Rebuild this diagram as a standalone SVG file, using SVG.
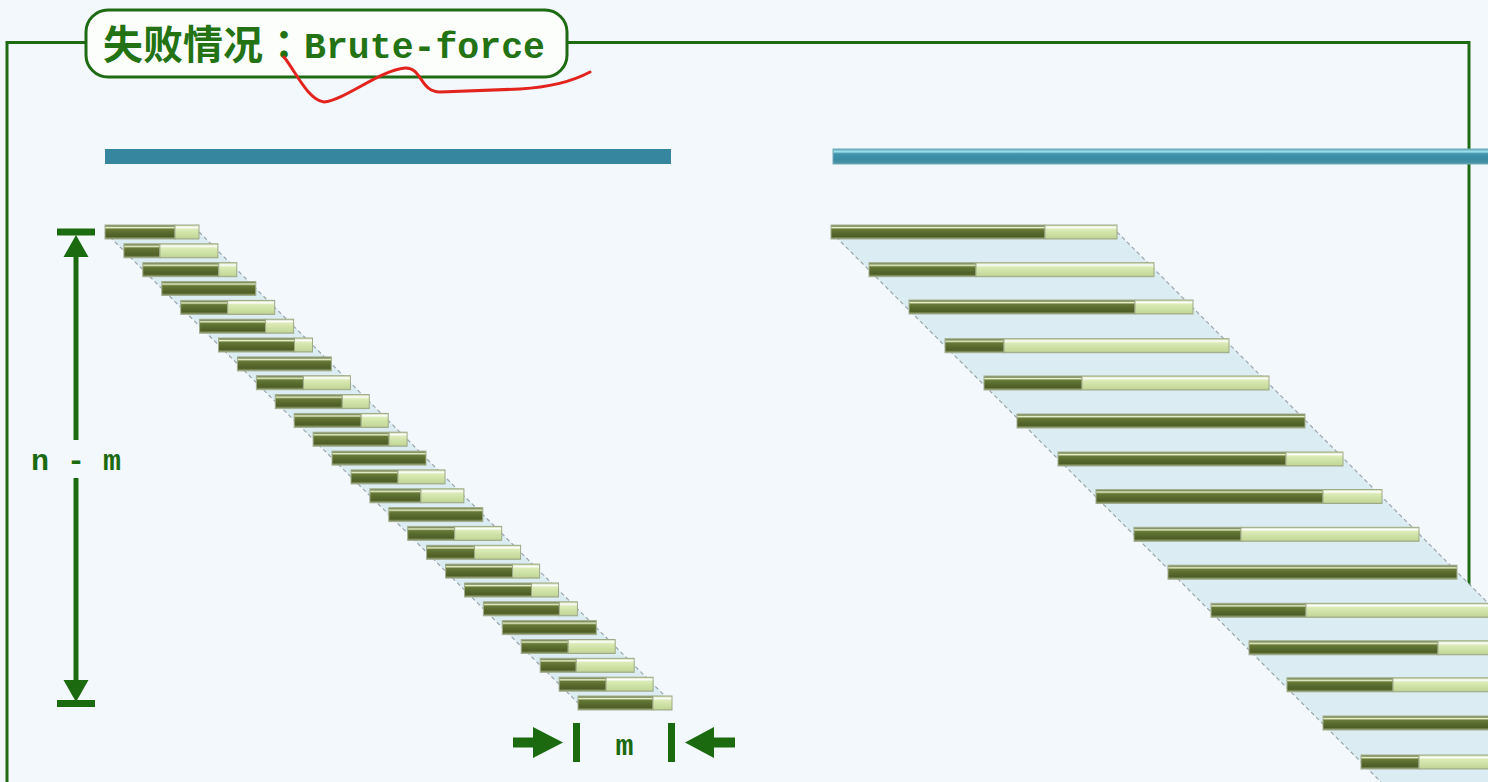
<svg xmlns="http://www.w3.org/2000/svg" width="1488" height="782" viewBox="0 0 1488 782">
<style>
.frame{fill:none;stroke:#1f6b14;stroke-width:3}
.g{fill:#1c6a10}
.dk{fill:url(#dkG);stroke:#a2ad8e;stroke-width:1}
.lt{fill:url(#ltG);stroke:#9eaa86;stroke-width:1}
.band{fill:#dbedf3}
.dash{fill:none;stroke:#9ba6aa;stroke-width:1.2;stroke-dasharray:4 3}
.lbl{font-family:"Liberation Mono","DejaVu Sans Mono",monospace;font-weight:bold;font-size:30px;fill:#1c6a10}
</style>
<defs>
<linearGradient id="dkG" x1="0" y1="0" x2="0" y2="1">
<stop offset="0" stop-color="#707e48"/>
<stop offset="0.1" stop-color="#8a9868"/>
<stop offset="0.18" stop-color="#e6efc8"/>
<stop offset="0.3" stop-color="#687a38"/>
<stop offset="0.6" stop-color="#56682b"/>
<stop offset="0.82" stop-color="#4d5f26"/>
<stop offset="0.92" stop-color="#7b8a58"/>
<stop offset="1" stop-color="#8c9870"/>
</linearGradient>
<linearGradient id="ltG" x1="0" y1="0" x2="0" y2="1">
<stop offset="0" stop-color="#c2d19a"/>
<stop offset="0.16" stop-color="#ffffff"/>
<stop offset="0.3" stop-color="#dcebb8"/>
<stop offset="0.6" stop-color="#cfe2a6"/>
<stop offset="0.88" stop-color="#c6d99c"/>
<stop offset="1" stop-color="#aebd8a"/>
</linearGradient>
<linearGradient id="tealG" x1="0" y1="0" x2="0" y2="1">
<stop offset="0" stop-color="#5aa6ba"/>
<stop offset="0.18" stop-color="#9fe0ee"/>
<stop offset="0.32" stop-color="#3f93aa"/>
<stop offset="0.7" stop-color="#3a8ca3"/>
<stop offset="1" stop-color="#4f95a8"/>
</linearGradient>
</defs>
<rect x="0" y="0" width="1488" height="782" fill="#f2f8fc"/>

<g id="frame">
<path class="frame" d="M7 782 L7 42.5 L1469 42.5 L1469 600"/>
</g>

<g id="title">
<rect x="86" y="10" width="481" height="67" rx="22" fill="#fcfefc" stroke="#1f6b14" stroke-width="3"/>
<text x="103" y="59" font-family="'Noto Sans CJK SC',sans-serif" font-weight="bold" font-size="40" fill="#237314">失败情况</text>
<text x="284" y="59" text-anchor="middle" font-family="'Noto Sans CJK TC',sans-serif" font-weight="bold" font-size="40" fill="#237314">：</text>
<text x="304" y="58" font-family="'Liberation Mono','DejaVu Sans Mono',monospace" font-weight="bold" font-size="37" fill="#237314" textLength="241" lengthAdjust="spacingAndGlyphs">Brute-force</text>
<path d="M284 57 C296 72,308 100,324 102 C345 100,380 70,405 68 C422 67,420 92,440 92 L520 89 C555 87,575 80,590 72" fill="none" stroke="#e3241e" stroke-width="3" stroke-linecap="round"/>
</g>

<g id="text-bars">
<rect x="105" y="149" width="566" height="15" fill="#35869e"/>
<rect x="833" y="149" width="670" height="15" fill="url(#tealG)" stroke="#72aab8" stroke-width="1"/>
</g>

<g id="left-shifts">
<polygon class="band" points="105,232 199,232 672,703 578,703"/>
<line class="dash" x1="105" y1="232" x2="578" y2="703"/>
<line class="dash" x1="199" y1="232" x2="672" y2="703"/>
<g transform="translate(105,225)"><rect class="dk" width="70" height="14"/><rect class="lt" x="70" width="24" height="14"/></g>
<g transform="translate(123.9,243.8)"><rect class="dk" width="36" height="14"/><rect class="lt" x="36" width="58" height="14"/></g>
<g transform="translate(142.8,262.7)"><rect class="dk" width="76" height="14"/><rect class="lt" x="76" width="18" height="14"/></g>
<g transform="translate(161.8,281.5)"><rect class="dk" width="94" height="14"/></g>
<g transform="translate(180.7,300.4)"><rect class="dk" width="47" height="14"/><rect class="lt" x="47" width="47" height="14"/></g>
<g transform="translate(199.6,319.2)"><rect class="dk" width="66" height="14"/><rect class="lt" x="66" width="28" height="14"/></g>
<g transform="translate(218.5,338)"><rect class="dk" width="76" height="14"/><rect class="lt" x="76" width="18" height="14"/></g>
<g transform="translate(237.4,356.9)"><rect class="dk" width="94" height="14"/></g>
<g transform="translate(256.4,375.7)"><rect class="dk" width="47" height="14"/><rect class="lt" x="47" width="47" height="14"/></g>
<g transform="translate(275.3,394.6)"><rect class="dk" width="67" height="14"/><rect class="lt" x="67" width="27" height="14"/></g>
<g transform="translate(294.2,413.4)"><rect class="dk" width="67" height="14"/><rect class="lt" x="67" width="27" height="14"/></g>
<g transform="translate(313.1,432.2)"><rect class="dk" width="76" height="14"/><rect class="lt" x="76" width="18" height="14"/></g>
<g transform="translate(332,451.1)"><rect class="dk" width="94" height="14"/></g>
<g transform="translate(351,469.9)"><rect class="dk" width="47" height="14"/><rect class="lt" x="47" width="47" height="14"/></g>
<g transform="translate(369.9,488.8)"><rect class="dk" width="51" height="14"/><rect class="lt" x="51" width="43" height="14"/></g>
<g transform="translate(388.8,507.6)"><rect class="dk" width="94" height="14"/></g>
<g transform="translate(407.7,526.4)"><rect class="dk" width="47" height="14"/><rect class="lt" x="47" width="47" height="14"/></g>
<g transform="translate(426.6,545.3)"><rect class="dk" width="48" height="14"/><rect class="lt" x="48" width="46" height="14"/></g>
<g transform="translate(445.6,564.1)"><rect class="dk" width="67" height="14"/><rect class="lt" x="67" width="27" height="14"/></g>
<g transform="translate(464.5,583)"><rect class="dk" width="67" height="14"/><rect class="lt" x="67" width="27" height="14"/></g>
<g transform="translate(483.4,601.8)"><rect class="dk" width="76" height="14"/><rect class="lt" x="76" width="18" height="14"/></g>
<g transform="translate(502.3,620.6)"><rect class="dk" width="94" height="14"/></g>
<g transform="translate(521.2,639.5)"><rect class="dk" width="47" height="14"/><rect class="lt" x="47" width="47" height="14"/></g>
<g transform="translate(540.2,658.3)"><rect class="dk" width="36" height="14"/><rect class="lt" x="36" width="58" height="14"/></g>
<g transform="translate(559.1,677.2)"><rect class="dk" width="47" height="14"/><rect class="lt" x="47" width="47" height="14"/></g>
<g transform="translate(578,696)"><rect class="dk" width="75" height="14"/><rect class="lt" x="75" width="19" height="14"/></g>
</g>

<g id="right-shifts">
<polygon class="band" points="831,232 1117,232 1667,782 1381,782"/>
<line class="dash" x1="831" y1="232" x2="1381" y2="782"/>
<line class="dash" x1="1117" y1="232" x2="1667" y2="782"/>
<g transform="translate(831,225)"><rect class="dk" width="214" height="14"/><rect class="lt" x="214" width="72" height="14"/></g>
<g transform="translate(869,262.7)"><rect class="dk" width="107" height="14"/><rect class="lt" x="107" width="178" height="14"/></g>
<g transform="translate(909,300)"><rect class="dk" width="226" height="14"/><rect class="lt" x="226" width="58" height="14"/></g>
<g transform="translate(945,338.7)"><rect class="dk" width="59" height="14"/><rect class="lt" x="59" width="225" height="14"/></g>
<g transform="translate(984,376)"><rect class="dk" width="98" height="14"/><rect class="lt" x="98" width="187" height="14"/></g>
<g transform="translate(1017,414)"><rect class="dk" width="288" height="14"/></g>
<g transform="translate(1058,452)"><rect class="dk" width="228" height="14"/><rect class="lt" x="228" width="57" height="14"/></g>
<g transform="translate(1096,489.5)"><rect class="dk" width="227" height="14"/><rect class="lt" x="227" width="59" height="14"/></g>
<g transform="translate(1134,527.3)"><rect class="dk" width="107" height="14"/><rect class="lt" x="107" width="178" height="14"/></g>
<g transform="translate(1168,565.2)"><rect class="dk" width="289" height="14"/></g>
<g transform="translate(1211,603.3)"><rect class="dk" width="95" height="14"/><rect class="lt" x="95" width="191" height="14"/></g>
<g transform="translate(1249,640.8)"><rect class="dk" width="189" height="14"/><rect class="lt" x="189" width="97" height="14"/></g>
<g transform="translate(1287,677.8)"><rect class="dk" width="106" height="14"/><rect class="lt" x="106" width="180" height="14"/></g>
<g transform="translate(1323,716)"><rect class="dk" width="286" height="14"/></g>
<g transform="translate(1361,755)"><rect class="dk" width="58" height="14"/><rect class="lt" x="58" width="228" height="14"/></g>
</g>

<g id="dim-n-m">
<rect class="g" x="57" y="228.5" width="38" height="7"/>
<polygon class="g" points="76,235 63.5,257 88.5,257"/>
<rect class="g" x="73.5" y="256" width="5" height="184"/>
<text class="lbl" x="76" y="470" text-anchor="middle">n - m</text>
<rect class="g" x="73.5" y="478" width="5" height="203"/>
<polygon class="g" points="63.5,680 88.5,680 76,702"/>
<rect class="g" x="57" y="700" width="38" height="7"/>
</g>

<g id="dim-m">
<rect class="g" x="513" y="737.5" width="22" height="10"/>
<polygon class="g" points="533,727 563,742.5 533,758"/>
<rect class="g" x="573" y="723" width="7" height="39"/>
<text class="lbl" x="624.5" y="755" text-anchor="middle">m</text>
<rect class="g" x="668" y="723" width="7" height="39"/>
<polygon class="g" points="685,742.5 714,727 714,758"/>
<rect class="g" x="713" y="737.5" width="22" height="10"/>
</g>
</svg>
